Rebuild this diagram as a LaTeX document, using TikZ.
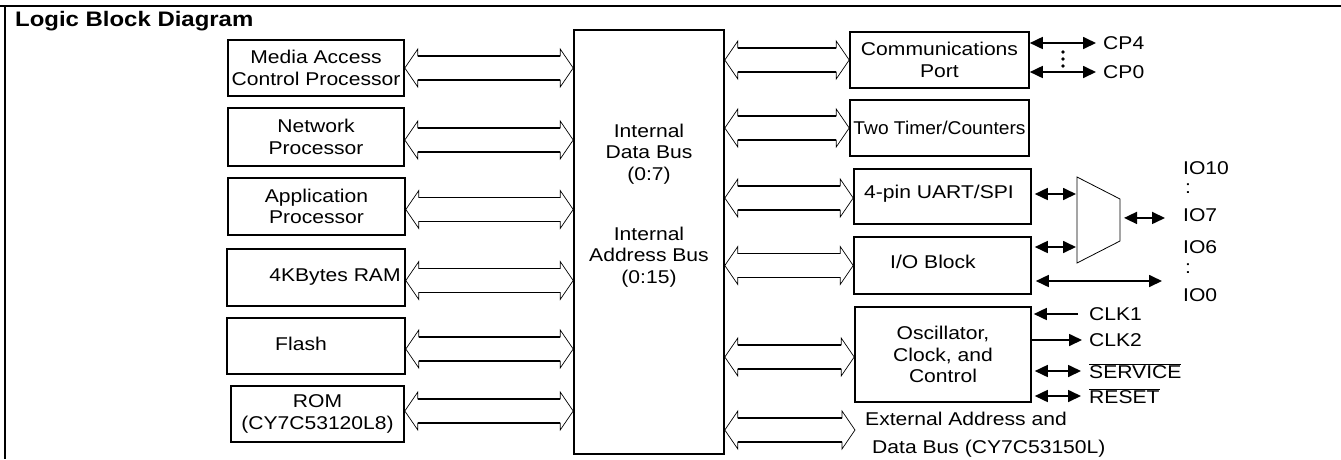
\documentclass[tikz,border=0pt]{standalone}
\usepackage{fontspec}
\setmainfont{Liberation Sans}[FakeStretch=1.14]
\usetikzlibrary{arrows.meta,calc}
\newcommand\busarrow[2]{%
  \draw[line width=0.7pt, line join=miter] let \p1=#1, \p2=#2 in
    (\x1,\y1) -- (\x1+13pt,\y1+19pt) -- (\x1+13pt,\y1+12pt) -- (\x2-13pt,\y1+12pt)
    -- (\x2-13pt,\y1+19pt) -- (\x2,\y1) -- (\x2-13pt,\y1-19pt) -- (\x2-13pt,\y1-12pt)
    -- (\x1+13pt,\y1-12pt) -- (\x1+13pt,\y1-19pt) -- cycle;
  \draw[line width=1.7pt] let \p1=#1, \p2=#2 in
    (\x1+13pt,\y1+12pt) -- (\x2-13pt,\y1+12pt)
    (\x1+13pt,\y1-12pt) -- (\x2-13pt,\y1-12pt);}
\begin{document}
\begin{tikzpicture}[x=1pt,y=-1pt,
  txt/.style={inner sep=0pt, align=center, font=\fontsize{18.5}{21.5}\selectfont},
  blk/.style={draw, line width=1.6pt, inner sep=0pt, align=center,
    font=\fontsize{18.5}{21.5}\selectfont},
  sig/.style={line width=1.7pt, {Triangle[length=13pt,width=12pt]}-{Triangle[length=13pt,width=12pt]}},
  sigr/.style={line width=1.7pt, -{Triangle[length=13pt,width=12pt]}},
  lbl/.style={inner sep=0pt, anchor=west, font=\fontsize{18.5}{21.5}\selectfont}]
\useasboundingbox (0,0) rectangle (1341,459);
% frame
\draw[line width=2.6pt] (0,6) -- (1341,6);
\draw[line width=2pt] (5,6) -- (5,459);
\node[anchor=west, inner sep=0pt, font=\bfseries\fontsize{21}{22}\selectfont] (title) at (15,21) {Logic Block Diagram};
% left blocks
\node[blk, minimum width=176pt, minimum height=56pt] (media) at (316,68) {Media Access\\Control Processor};
\node[blk, minimum width=176pt, minimum height=58pt] (net) at (316,137) {Network\\Processor};
\node[blk, minimum width=177pt, minimum height=57pt] (app) at (316.5,206.5) {Application\\Processor};
\node[blk, minimum width=178pt, minimum height=57pt] (ram) at (316,277.5) {};
\node[txt] (ramt) at (335,277) {4KBytes RAM};
\node[blk, minimum width=178pt, minimum height=56pt] (flash) at (316,346) {};
\node[txt] (flasht) at (301,344) {Flash};
\node[blk, minimum width=173pt, minimum height=56pt] (rom) at (317.5,414) {ROM\\(CY7C53120L8)};
% bus
\node[blk, minimum width=150pt, minimum height=424pt] (bus) at (649,242) {};
\node[txt] (bt1) at (649,154) {Internal\\Data Bus\\(0:7)};
\node[txt] (bt2) at (649,257) {Internal\\Address Bus\\(0:15)};
% right blocks
\node[blk, minimum width=179pt, minimum height=56pt] (comm) at (939.5,60) {Communications\\Port};
\node[blk, minimum width=179pt, minimum height=56pt] (timer) at (939.5,128) {\scalebox{0.91}[1]{Two Timer/Counters}};
\node[blk, minimum width=177pt, minimum height=55pt] (uart) at (942.5,196.5) {};
\node[txt] (uartt) at (939,194) {4-pin UART/SPI};
\node[blk, minimum width=177pt, minimum height=57pt] (io) at (942.5,265.5) {};
\node[txt] (iot) at (933,262) {I/O Block};
\node[blk, minimum width=176pt, minimum height=95pt] (osc) at (943,354.5) {Oscillator,\\Clock, and\\Control};
% bus arrows left
\busarrow{(media.east)}{(media.east -| bus.west)}
\busarrow{($(net.east)+(0,3)$)}{(net.east -| bus.west)}
\busarrow{($(app.east)+(0,3)$)}{(app.east -| bus.west)}
\busarrow{($(ram.east)+(0,3)$)}{(ram.east -| bus.west)}
\busarrow{($(flash.east)+(0,3)$)}{(flash.east -| bus.west)}
\busarrow{($(rom.east)+(0,-3)$)}{(rom.east -| bus.west)}
% bus arrows right
\coordinate (extend) at (855,430);
\busarrow{(bus.east |- comm.west)}{(comm.west)}
\busarrow{(bus.east |- timer.west)}{(timer.west)}
\busarrow{($(bus.east |- uart.west)+(0,1.5)$)}{(uart.west)}
\busarrow{(bus.east |- io.west)}{(io.west)}
\busarrow{($(bus.east |- osc.west)+(0,2.5)$)}{(osc.west)}
\busarrow{(bus.east |- extend)}{(extend)}
\node[lbl] (ext1) at (865,419) {External Address and};
\node[lbl] (ext2) at (872,449) {Data Bus (CY7C53150L)};
% comm port
\coordinate (cp4e) at (1096,43);
\coordinate (cp0e) at (1096,72);
\draw[sig] (comm.east |- cp4e) -- (cp4e);
\draw[sig] (comm.east |- cp0e) -- (cp0e);
\node[lbl] (cp4) at (1103,43) {CP4};
\node[lbl] (cp0) at (1103,72) {CP0};
\foreach \yy in {52,59,66} \fill (1063,\yy) circle (1.8pt);
% mux
\coordinate (m1) at (1077,177);
\coordinate (m2) at (1120,199);
\coordinate (m3) at (1120,241);
\coordinate (m4) at (1077,263);
\draw[line width=0.8pt] (m1) -- (m2) -- (m3) -- (m4) -- cycle;
\draw[sig] ($(uart.east)+(3,-2.5)$) -- ($(uart.east -| m1)+(-1,-2.5)$);
\draw[sig] ($(io.east)+(3,-18.5)$) -- ($(io.east -| m1)+(-1,-18.5)$);
\coordinate (muxo) at (1165,218);
\draw[sig] ($(m2)!0.45!(m3)+(4,0)$) -- (muxo);
\coordinate (io0e) at (1162,281);
\draw[sig] ($(io.east |- io0e)+(4,0)$) -- (io0e);
\node[lbl] (l10) at (1183,168) {IO10};
\node[lbl] (ld1) at (1185,189) {:};
\node[lbl] (l7) at (1183,215) {IO7};
\node[lbl] (l6) at (1183,247) {IO6};
\node[lbl] (ld2) at (1185,269) {:};
\node[lbl] (l0) at (1183,295) {IO0};
% oscillator signals
\coordinate (c1) at (1078,314);
\coordinate (c2) at (1082,340);
\coordinate (sv) at (1081,371);
\coordinate (rs) at (1081,396);
\draw[sigr] (c1) -- ($(osc.east |- c1)+(2,0)$);
\draw[sigr] (osc.east |- c2) -- (c2);
\draw[sig] ($(osc.east |- sv)+(3,0)$) -- (sv);
\draw[sig] ($(osc.east |- rs)+(3,0)$) -- (rs);
\node[lbl] (lc1) at (1089,314) {CLK1};
\node[lbl] (lc2) at (1089,340) {CLK2};
\node[lbl, anchor=base west] (lsv) at (1089,378) {$\overline{\mbox{\vphantom{Ip}\smash{SERVICE}}}$};
\node[lbl, anchor=base west] (lrs) at (1089,403) {$\overline{\mbox{\vphantom{Ip}\smash{RESET}}}$};
\end{tikzpicture}
\end{document}
